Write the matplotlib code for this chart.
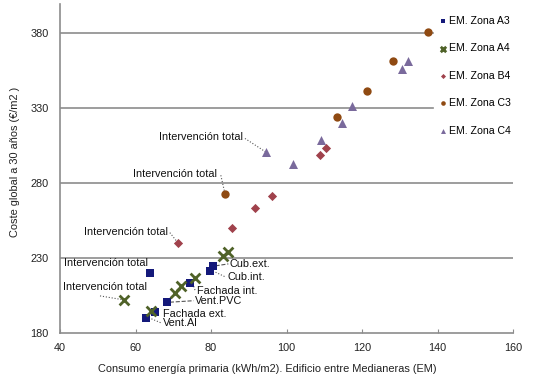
import matplotlib
matplotlib.use("Agg")
import matplotlib.pyplot as plt

plt.rcParams['font.family'] = ['Liberation Sans', 'DejaVu Sans']

# ---- data ----
A3_x = [63.8, 80.4, 79.7, 74.4, 68.3, 65.2, 62.7]
A3_y = [220.0, 224.7, 221.3, 213.0, 200.5, 194.2, 190.2]
A4_x = [57.0, 64.0, 70.5, 72.0, 75.8, 83.1, 84.4]
A4_y = [202.0, 194.7, 206.9, 211.3, 216.9, 231.0, 234.0]
B4_x = [71.3, 85.5, 91.7, 96.2, 108.9, 110.4]
B4_y = [239.8, 250.2, 263.1, 270.9, 298.7, 303.3]
C3_x = [83.7, 113.3, 121.2, 128.1, 137.6]
C3_y = [272.7, 323.8, 341.3, 360.9, 380.5]
C4_x = [94.5, 101.6, 109.1, 114.8, 117.3, 130.7, 132.3]
C4_y = [300.5, 292.7, 308.7, 319.8, 331.3, 355.8, 361.0]

series_names = ["EM. Zona A3", "EM. Zona A4", "EM. Zona B4", "EM. Zona C3", "EM. Zona C4"]
x_ticks = [40, 60, 80, 100, 120, 140, 160]
y_ticks = [180, 230, 280, 330, 380]

# "Intervención total" labels
it_label = "Intervención total"
it_text_pos = [(88.5, 310.7), (81.6, 286.0), (68.6, 247.3), (63.3, 226.9), (63.0, 210.5)]
it_points = [(C4_x[0], C4_y[0]), (C3_x[0], C3_y[0]), (B4_x[0], B4_y[0]), (A3_x[0], A3_y[0]), (A4_x[0], A4_y[0])]
it_leader_start = [(89.0, 309.5), (82.6, 285.0), (69.1, 246.8), None, (50.6, 204.7)]

# A3 measure labels
m_labels = ["Cub.ext.", "Cub.int.", "Fachada int.", "Vent.PVC", "Fachada ext.", "Vent.Al"]
m_text_pos = [(85.0, 226.0), (84.4, 217.1), (76.2, 208.2), (75.8, 201.5), (67.4, 192.7), (67.4, 186.5)]
m_points = [(A3_x[1], A3_y[1]), (A3_x[2], A3_y[2]), (A3_x[3], A3_y[3]), (A3_x[4], A3_y[4]), None, (A3_x[6], A3_y[6])]
m_styles = ["--", ":", ":", "--", None, ":"]

W, H = 534, 388
fig = plt.figure(figsize=(W / 100, H / 100), dpi=100)
ax = fig.add_axes([60 / W, 1 - 333 / H, (513 - 60) / W, (333 - 4) / H])
ax.set_xlim(40, 160)
ax.set_ylim(180, 399)

grid_col = "#8c8c8c"
legend_left_frac = (433 - 60) / (513 - 60)
for yv in y_ticks[1:]:
    xmax = legend_left_frac if yv > 300 else 1.0
    ax.axhline(yv, xmax=xmax, color=grid_col, lw=1.2, zorder=1)

c_a3 = "#14197a"
c_a4 = "#4f6228"
c_b4 = "#a0424c"
c_c3 = "#8f4a12"
c_c4 = "#7a6a9c"

ax.scatter(A3_x, A3_y, marker="s", s=40, color=c_a3, label=series_names[0], zorder=3, linewidths=0)
ax.scatter(A4_x, A4_y, marker="x", s=50, color=c_a4, label=series_names[1], zorder=4, linewidths=2)
ax.scatter(B4_x, B4_y, marker="D", s=22, color=c_b4, label=series_names[2], zorder=3, linewidths=0)
ax.scatter(C3_x, C3_y, marker="o", s=36, color=c_c3, label=series_names[3], zorder=3, linewidths=0)
ax.scatter(C4_x, C4_y, marker="^", s=42, color=c_c4, label=series_names[4], zorder=3, linewidths=0)

fs_ann = 7.8
for (tx, ty), (px, py), ls in zip(it_text_pos, it_points, it_leader_start):
    ax.text(tx, ty, it_label, ha="right", va="center", fontsize=fs_ann, color="#111111", zorder=5)
    if ls is not None:
        ax.plot([ls[0], px], [ls[1], py], ls=":", color="#555555", lw=0.8, zorder=2)

for lab, (tx, ty), pt, st in zip(m_labels, m_text_pos, m_points, m_styles):
    ax.text(tx, ty, lab, ha="left", va="center", fontsize=fs_ann, color="#111111", zorder=5)
    if pt is not None:
        ax.plot([pt[0] + 0.8, tx - 0.4], [pt[1], ty], ls=st, color="#555555", lw=0.8, zorder=2)

for s in ["top", "right"]:
    ax.spines[s].set_visible(False)
for s in ["left", "bottom"]:
    ax.spines[s].set_color("#8c8c8c")
    ax.spines[s].set_linewidth(1.2)

ax.set_xticks(x_ticks)
ax.set_yticks(y_ticks)
ax.tick_params(axis="x", direction="in", length=3, color="#8c8c8c", labelsize=7.8, pad=7, labelcolor="#222222")
ax.tick_params(axis="y", length=0, labelsize=7.8, pad=8, labelcolor="#222222")

ax.set_xlabel("Consumo energía primaria (kWh/m2). Edificio entre Medianeras (EM)", fontsize=7.9, color="#222222")
ax.xaxis.set_label_coords(0.458, -0.095)
ax.set_ylabel("Coste global a 30 años (€/m2 )", fontsize=7.9, color="#222222")
ax.yaxis.set_label_coords(-0.088, 0.52)

leg = ax.legend(loc="upper left", bbox_to_anchor=(440 / W, 1 - 16 / H), bbox_transform=fig.transFigure,
                fontsize=7.6, frameon=False,
                markerscale=0.55, handlelength=0.5, handletextpad=0.35, labelspacing=1.65,
                borderpad=0.0, borderaxespad=0)
leg.set_zorder(10)

fig.savefig("out.png", dpi=100)
